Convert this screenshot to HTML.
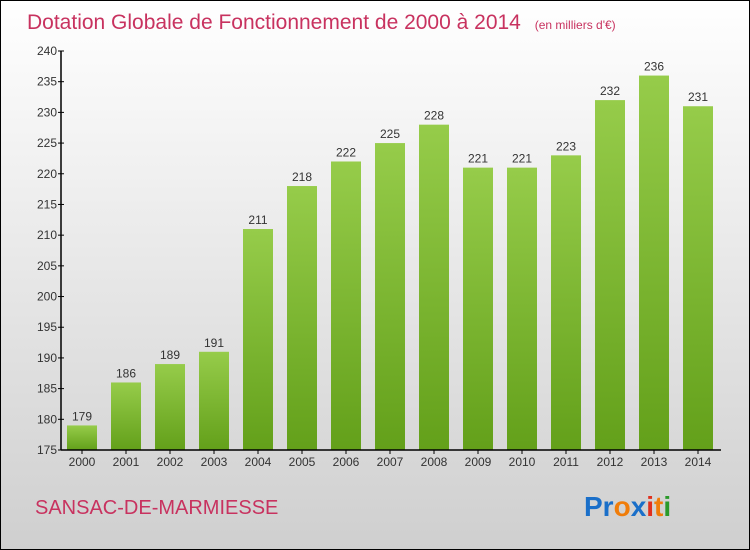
<!DOCTYPE html>
<html><head><meta charset="utf-8"><style>
body{margin:0;width:750px;height:550px;overflow:hidden}
svg{display:block;font-family:"Liberation Sans",sans-serif}
</style></head><body>
<svg id="chart" width="750" height="550">
<defs>
<linearGradient id="bg" x1="0" y1="0" x2="0" y2="1"><stop offset="0" stop-color="#ffffff"/><stop offset="1" stop-color="#cfcfcf"/></linearGradient>
<linearGradient id="bar" x1="0" y1="0" x2="0" y2="1"><stop offset="0" stop-color="#96cc4a"/><stop offset="1" stop-color="#63a01a"/></linearGradient>
</defs>
<rect x="0.5" y="0.5" width="749" height="549" fill="url(#bg)" stroke="#000"/>
<text x="27" y="29" font-size="21" fill="#c8325f">Dotation Globale de Fonctionnement de 2000 à 2014 <tspan font-size="12" dx="8">(en milliers d'€)</tspan></text>
<text x="35" y="514" font-size="20" fill="#c8325f">SANSAC-DE-MARMIESSE</text>
<text x="584" y="516" font-size="28" font-weight="bold"><tspan fill="#1a6fc9">Pr</tspan><tspan fill="#f07d0a">o</tspan><tspan fill="#1a6fc9">x</tspan><tspan fill="#e0301e">i</tspan><tspan fill="#f07d0a">t</tspan><tspan fill="#2a9a2a">i</tspan></text>
<g id="plot"></g>
</svg>
<script>
const categories=["2000","2001","2002","2003","2004","2005","2006","2007","2008","2009","2010","2011","2012","2013","2014"];
const values=[179,186,189,191,211,218,222,225,228,221,221,223,232,236,231];
const yTicks=[175,180,185,190,195,200,205,210,215,220,225,230,235,240];
const X0=61,BW=44,Y0=450,Y1=51,VMIN=175,VMAX=240;
const y=v=>Y0-(v-VMIN)/(VMAX-VMIN)*(Y0-Y1);
const x=i=>X0+BW*i+BW/2-1;
const g=document.getElementById('plot');
const NS='http://www.w3.org/2000/svg';
function mk(t,a){const e=document.createElementNS(NS,t);for(const k in a)e.setAttribute(k,a[k]);g.appendChild(e);return e;}
values.forEach((v,i)=>{
 const r=mk('rect',{x:x(i)-15,y:y(v),width:30,height:Y0-y(v),fill:'url(#bar)'});
 
 
 const t=mk('text',{x:x(i),y:y(v)-5,'text-anchor':'middle','font-size':12,fill:'#333'});
 t.textContent=v;
 
 
 const c=mk('text',{x:x(i),y:466,'text-anchor':'middle','font-size':12,fill:'#333'});
 c.textContent=categories[i];
 
 
 const tk=mk('line',{x1:x(i),x2:x(i),y1:Y0,y2:Y0+4,stroke:'#000'});
 
 
});
yTicks.forEach(v=>{
 const l=mk('line',{x1:X0-3,x2:X0+3,y1:y(v),y2:y(v),stroke:'#000'});
 
 
 const t=mk('text',{x:X0-4,y:y(v)+4,'text-anchor':'end','font-size':12,fill:'#333'});
 t.textContent=v;
 
 
});
const ya=mk('line',{x1:X0,x2:X0,y1:Y1,y2:Y0,stroke:'#000','stroke-width':1.5});


const xa=mk('line',{x1:X0,x2:X0+BW*15,y1:Y0,y2:Y0,stroke:'#000','stroke-width':1.5});


</script>
</body></html>
